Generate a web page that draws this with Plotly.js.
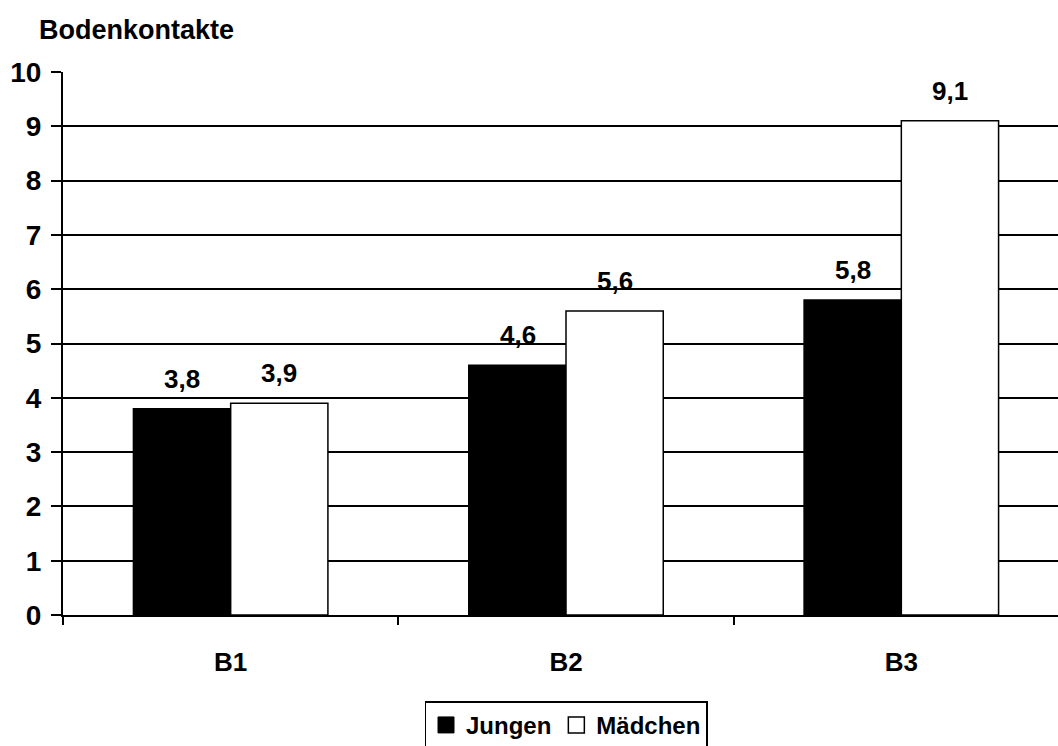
<!DOCTYPE html>
<html><head><meta charset="utf-8">
<script src="https://cdn.plot.ly/plotly-3.0.1.min.js"></script>
<style>html,body{margin:0;padding:0;overflow:hidden;background:#fff;width:1058px;height:746px}</style>
</head><body>
<div id="chart"></div>
<script>
const categories = ["B1", "B2", "B3"];
const jungen = [3.8, 4.6, 5.8];
const maedchen = [3.9, 5.6, 9.1];
const seriesNames = ["Jungen", "Mädchen"];
const yTicks = [0,1,2,3,4,5,6,7,8,9,10];

const FONT = "Arial, 'Liberation Sans', sans-serif";
const labelFont = {family: FONT, size: 26, color: "#000", weight: "bold"};

const fmt = v => v.toFixed(1).replace(".", ",");

const traces = [
  {type: "bar", name: seriesNames[0], x: categories, y: jungen, showlegend: false,
   marker: {color: "#000", line: {color: "#000", width: 1.5}}},
  {type: "bar", name: seriesNames[1], x: categories, y: maedchen, showlegend: false,
   marker: {color: "#fff", line: {color: "#000", width: 1.5}}},
  {type: "scatter", mode: "markers", name: seriesNames[0], x: [null], y: [null],
   marker: {symbol: "square", size: 18, color: "#000", line: {color: "#000", width: 1}}},
  {type: "scatter", mode: "markers", name: seriesNames[1], x: [null], y: [null],
   marker: {symbol: "square", size: 18, color: "#fff", line: {color: "#000", width: 1.5}}}
];

const annotations = [];
const groupShift = 48.5;
[jungen, maedchen].forEach((vals, si) => {
  vals.forEach((v, i) => {
    annotations.push({x: categories[i], y: v, xref: "x", yref: "y", text: fmt(v),
      showarrow: false, xanchor: "center", yanchor: "bottom",
      xshift: si === 0 ? -groupShift : groupShift, yshift: 13, font: labelFont});
  });
});
annotations.push({text: "Bodenkontakte", xref: "paper", yref: "paper",
  x: (37 - 63) / 1006, xanchor: "left", y: (619 - 30) / 547, yanchor: "middle",
  showarrow: false, font: {family: FONT, size: 27, color: "#000", weight: "bold"}});

const layout = {
  width: 1080, height: 760,
  margin: {l: 63, r: 11, t: 72, b: 141},
  paper_bgcolor: "#fff", plot_bgcolor: "#fff",
  barmode: "group", bargap: 0.42, bargroupgap: 0,
  font: {family: FONT, color: "#000"},
  showlegend: true,
  legend: {orientation: "h", x: 0.5, xanchor: "center", y: -0.159, yanchor: "top",
           font: {family: FONT, size: 24, color: "#000", weight: "bold"},
           bordercolor: "#000", borderwidth: 1.5, bgcolor: "#fff", traceorder: "normal",
           itemwidth: 30},
  xaxis: {type: "category", showline: true, linecolor: "#000", linewidth: 2,
          ticks: "outside", tickson: "boundaries", ticklen: 8, tickwidth: 2, tickcolor: "#000",
          tickfont: {family: FONT, size: 26, color: "#000", weight: "bold"},
          ticklabelstandoff: 23, showgrid: false, zeroline: false, fixedrange: true},
  yaxis: {range: [0, 10], tickvals: yTicks, showline: true, linecolor: "#000", linewidth: 2,
          ticks: "outside", ticklen: 10, tickwidth: 2, tickcolor: "#000",
          tickfont: {family: FONT, size: 28, color: "#000", weight: "bold"},
          ticklabelstandoff: 4,
          showgrid: true, gridcolor: "#000", gridwidth: 2, zeroline: false, fixedrange: true},
  annotations: annotations
};

Plotly.newPlot("chart", traces, layout, {displayModeBar: false, staticPlot: true});
</script>
</body></html>
